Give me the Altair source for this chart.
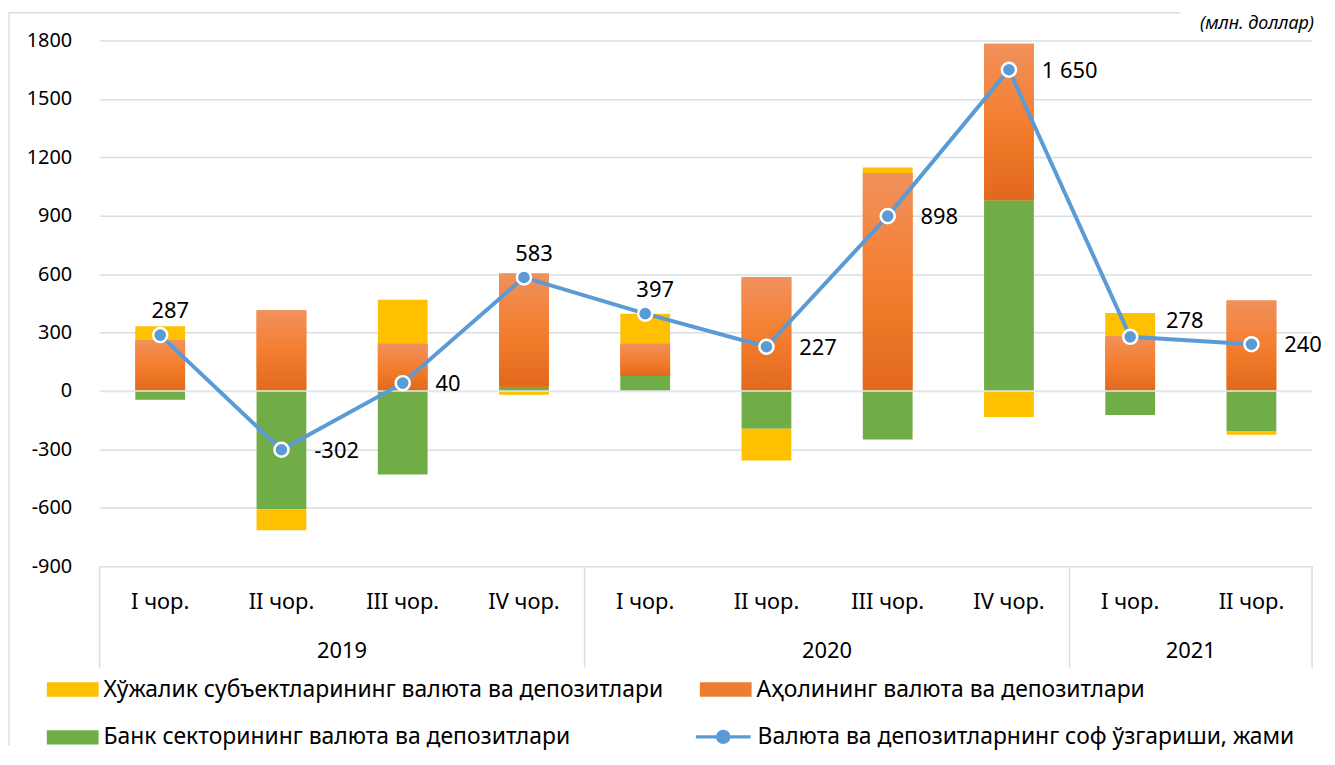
import altair as alt
import pandas as pd

# ---------------- data ----------------
quarters = ["I чор.", "II чор.", "III чор.", "IV чор.",
            "I чор.", "II чор.", "III чор.", "IV чор.",
            "I чор.", "II чор."]
years = ["2019", "2019", "2019", "2019",
         "2020", "2020", "2020", "2020",
         "2021", "2021"]

S_BUS = "Хўжалик субъектларининг валюта ва депозитлари"
S_POP = "Аҳолининг валюта ва депозитлари"
S_BANK = "Банк секторининг валюта ва депозитлари"
S_NET = "Валюта ва депозитларнинг соф ўзгариши, жами"

business = [71, -108, 225, -20, 153, -163, 28, -134, 120, -17]
population = [261, 414, 244, 581, 167, 584, 1120, 804, 281, 465]
bank = [-45, -608, -429, 22, 77, -194, -250, 980, -123, -208]
net = [287, -302, 40, 583, 397, 227, 898, 1650, 278, 240]

# where each net label sits relative to its point
label_place = ["top", "right", "right", "top", "top",
               "right", "right", "right", "upright", "right"]

y_ticks = [-900, -600, -300, 0, 300, 600, 900, 1200, 1500, 1800]

units = "(млн. доллар)"

# ---------------- tables ----------------
series_order = [(S_BANK, bank), (S_POP, population), (S_BUS, business)]
rows = []
for i in range(len(quarters)):
    pos, neg = 0, 0
    for name, vals in series_order:
        v = vals[i]
        if v >= 0:
            y0, y1 = pos, pos + v
            pos += v
        else:
            y0, y1 = neg, neg + v
            neg += v
        rows.append({"idx": i, "series": name, "value": v, "y0": y0, "y1": y1})
bars_df = pd.DataFrame(rows)

net_df = pd.DataFrame({
    "idx": list(range(len(net))),
    "net": net,
    "name": [S_NET] * len(net),
    "label": [f"{v:,}".replace(",", " ") for v in net],
    "place": label_place,
})
quarters_df = pd.DataFrame({"idx": list(range(len(quarters))), "q": quarters})

year_rows = []
seps = [-0.5]
for y in dict.fromkeys(years):
    ids = [i for i, yy in enumerate(years) if yy == y]
    year_rows.append({"year": y, "center": sum(ids) / len(ids)})
    seps.append(ids[-1] + 0.5)
years_df = pd.DataFrame(year_rows)
seps_df = pd.DataFrame({"sep": seps})
zero_df = pd.DataFrame({"zero": [0]})
one_df = pd.DataFrame({"t": [units]})

# ---------------- geometry ----------------
W, H = 1218, 528
FONT = "Noto Sans"
GRID = "#d9dee5"

xscale = alt.Scale(domain=[-0.5, len(quarters) - 0.5], nice=False, zero=False,
                   padding=0)
yscale = alt.Scale(domain=[-900, 1800], nice=False, zero=False, padding=0)

y_axis = alt.Axis(values=y_ticks, grid=True, gridColor=GRID, gridWidth=1.5,
                  domain=False, ticks=False, title=None, labelFontSize=20,
                  labelColor="#000000", labelPadding=28, labelFont=FONT,
                  labelExpr="'' + datum.value")

rect_path = "M-1,-0.28H1V0.28H-1Z"
line_path = ("M-1,0H-0.2M0.2,0H1"
             "M-0.2,0A0.2,0.2 0 1,0 0.2,0A0.2,0.2 0 1,0 -0.2,0Z")

color_scale = alt.Scale(domain=[S_BUS, S_POP, S_BANK],
                        range=["#ffc000", "#ed7d31", "#70ad47"])

base_bars = alt.Chart(bars_df)
bars = base_bars.mark_bar(size=50).encode(
    x=alt.X("idx:Q", scale=xscale, axis=None),
    y=alt.Y("y0:Q", scale=yscale, axis=y_axis),
    y2="y1:Q",
    color=alt.Color("series:N", scale=color_scale,
                    legend=alt.Legend(title=None, orient="none",
                                      direction="horizontal",
                                      legendX=-53, legendY=626,
                                      columns=2, columnPadding=36,
                                      rowPadding=10, padding=0,
                                      symbolType=rect_path, symbolSize=2704,
                                      symbolStrokeWidth=0, symbolOpacity=1,
                                      labelFontSize=23, labelFont=FONT,
                                      labelColor="#000000", labelOffset=5,
                                      labelLimit=1000)),
)

orange_grad = alt.Gradient(
    gradient="linear",
    stops=[alt.GradientStop(color="#f0915c", offset=0),
           alt.GradientStop(color="#f47e2f", offset=0.5),
           alt.GradientStop(color="#e2691b", offset=1)],
    x1=0, x2=0, y1=0, y2=1)

pop_bars = base_bars.mark_bar(size=50, color=orange_grad).encode(
    x=alt.X("idx:Q", scale=xscale, axis=None),
    y=alt.Y("y0:Q", scale=yscale),
    y2="y1:Q",
).transform_filter(alt.datum.series == S_POP)

zero_rule = alt.Chart(zero_df).mark_rule(color="#e4e8ed", strokeWidth=1.5).encode(
    y=alt.Y("zero:Q", scale=yscale))

line = alt.Chart(net_df).mark_line(strokeWidth=4).encode(
    x=alt.X("idx:Q", scale=xscale, axis=None),
    y=alt.Y("net:Q", scale=yscale),
    stroke=alt.Stroke("name:N",
                      scale=alt.Scale(domain=[S_NET], range=["#5b9bd5"]),
                      legend=alt.Legend(title=None, orient="none",
                                        legendX=597, legendY=670, padding=0,
                                        symbolType=line_path, symbolSize=3025,
                                        symbolStrokeWidth=3.5,
                                        symbolFillColor="#5b9bd5",
                                        labelFontSize=23, labelFont=FONT,
                                        labelColor="#000000", labelOffset=5,
                                        labelLimit=1000)),
)

points = alt.Chart(net_df).mark_circle(size=200, color="#5b9bd5", opacity=1,
                                       stroke="white", strokeWidth=2.5).encode(
    x=alt.X("idx:Q", scale=xscale, axis=None),
    y=alt.Y("net:Q", scale=yscale),
)

lab_top = alt.Chart(net_df).transform_filter(alt.datum.place == "top").mark_text(
    fontSize=22, font=FONT, color="#000000", align="center", baseline="middle",
    dx=10, dy=-24).encode(x=alt.X("idx:Q", scale=xscale, axis=None),
                          y=alt.Y("net:Q", scale=yscale), text="label:N")
lab_right = alt.Chart(net_df).transform_filter(alt.datum.place == "right").mark_text(
    fontSize=22, font=FONT, color="#000000", align="left", baseline="middle",
    dx=33, dy=1).encode(x=alt.X("idx:Q", scale=xscale, axis=None),
                        y=alt.Y("net:Q", scale=yscale), text="label:N")
lab_upright = alt.Chart(net_df).transform_filter(alt.datum.place == "upright").mark_text(
    fontSize=22, font=FONT, color="#000000", align="left", baseline="middle",
    dx=36, dy=-16).encode(x=alt.X("idx:Q", scale=xscale, axis=None),
                          y=alt.Y("net:Q", scale=yscale), text="label:N")

quarter_text = alt.Chart(quarters_df).mark_text(
    fontSize=22, font=FONT, color="#000000", align="center", baseline="middle").encode(
    x=alt.X("idx:Q", scale=xscale, axis=None),
    y=alt.value(H + 36), text="q:N")

year_text = alt.Chart(years_df).mark_text(
    fontSize=22, font=FONT, color="#000000", align="center", baseline="middle").encode(
    x=alt.X("center:Q", scale=xscale, axis=None),
    y=alt.value(H + 85), text="year:N")

sep_rules = alt.Chart(seps_df).mark_rule(color=GRID, strokeWidth=1.5).encode(
    x=alt.X("sep:Q", scale=xscale, axis=None),
    y=alt.value(H), y2=alt.value(H + 102))

border_left = alt.Chart(one_df).mark_rule(color="#d9dde3", strokeWidth=1.5).encode(
    x=alt.value(-91), y=alt.value(-28), y2=alt.value(H + 180))
border_top = alt.Chart(one_df).mark_rule(color="#d9dde3", strokeWidth=1.5).encode(
    x=alt.value(-91), x2=alt.value(1085), y=alt.value(-28))
units_text = alt.Chart(one_df).mark_text(
    fontSize=18, font=FONT, fontStyle="italic", color="#000000",
    align="right", baseline="top").encode(
    x=alt.value(W + 2), y=alt.value(-26), text="t:N")

chart = alt.layer(
    border_left, border_top, units_text,
    bars, pop_bars, zero_rule, line, points,
    lab_top, lab_right, lab_upright, quarter_text, year_text, sep_rules,
).resolve_scale(color="independent", stroke="independent").properties(
    width=W, height=H,
    autosize=alt.AutoSizeParams(type="none"),
    padding={"left": 92, "top": 31, "right": 15, "bottom": 185},
).configure(font=FONT).configure_view(stroke=None)

chart.save("out.html", embed_options={"renderer": "svg", "actions": False})
